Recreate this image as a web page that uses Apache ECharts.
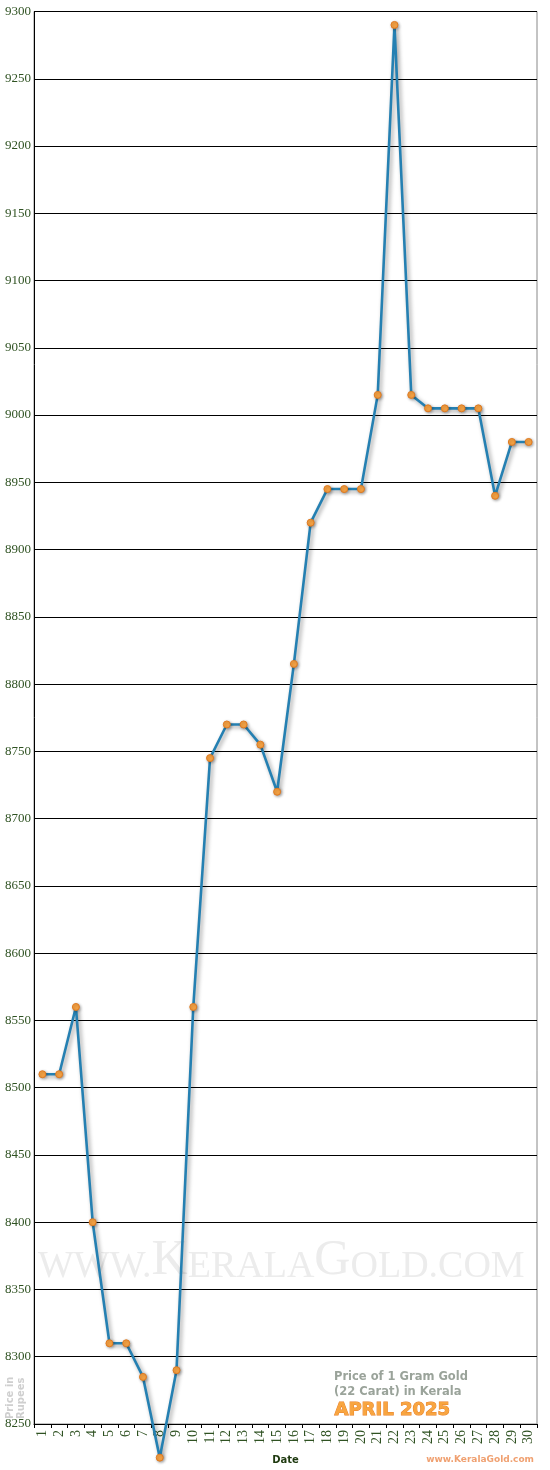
<!DOCTYPE html>
<html><head><meta charset="utf-8">
<script src="https://cdn.jsdelivr.net/npm/echarts@6/dist/echarts.min.js"></script>
<style>html,body{margin:0;padding:0;background:#fff}#c{width:550px;height:1470px}</style>
</head><body><div id="c"></div>
<script>
const dates = ['1','2','3','4','5','6','7','8','9','10','11','12','13','14','15','16','17','18','19','20','21','22','23','24','25','26','27','28','29','30'];
const prices = [8510,8510,8560,8400,8310,8310,8285,8225,8290,8560,8745,8770,8770,8755,8720,8815,8920,8945,8945,8945,9015,9290,9015,9005,9005,9005,9005,8940,8980,8980];
const yMin = 8250, yMax = 9300, yStep = 50;
const titleLines = ['Price of 1 Gram Gold', '(22 Carat) in Kerala'];
const monthLabel = 'APRIL 2025';
const siteLabel = 'www.KeralaGold.com';

const chart = echarts.init(document.getElementById('c'), null, {renderer:'canvas'});
chart.setOption({
  animation:false,
  backgroundColor:'#fff',
  grid:{left:34,right:13,top:11.5,bottom:41,show:true,borderColor:'#888',borderWidth:1,backgroundColor:'transparent'},
  xAxis:{
    type:'category', data:dates, boundaryGap:true,
    axisLine:{show:true,lineStyle:{color:'#000',width:1}},
    axisTick:{show:true,length:4,interval:0,lineStyle:{color:'#000'}},
    axisLabel:{rotate:90,interval:0,margin:6,color:'#2f5222',fontFamily:'Liberation Serif',fontSize:14},
    name:'Date',nameLocation:'middle',nameGap:31,
    nameTextStyle:{color:'#1f3a10',fontFamily:'DejaVu Sans',fontWeight:'bold',fontSize:10}
  },
  yAxis:{
    type:'value',min:yMin,max:yMax,interval:yStep,
    axisLine:{show:true,lineStyle:{color:'#000',width:1}},
    axisTick:{show:false},
    axisLabel:{margin:3,color:'#2f5222',fontFamily:'Liberation Serif',fontSize:13,formatter:v=>String(v)},
    splitLine:{show:true,lineStyle:{color:'#000',width:1}}
  },
  graphic:[
    {type:'text',left:38,top:1236,z:0,silent:true,
     style:{
       text:'{s|WWW.}{b|K}{s|ERALA}{b|G}{s|OLD.COM}',
       rich:{
         s:{fontFamily:'Liberation Serif',fontSize:38,fill:'#ececec',verticalAlign:'bottom'},
         b:{fontFamily:'Liberation Serif',fontSize:50,fill:'#ececec',verticalAlign:'bottom'}
       }
     }},
    {type:'text',left:334,top:1370,z:5,
     style:{text:titleLines.join('\n'),fontFamily:'DejaVu Sans',fontWeight:'bold',fontSize:11.5,lineHeight:15,fill:'#9aa39a'}},
    {type:'text',left:334,top:1401,z:5,
     style:{text:monthLabel,fontFamily:'DejaVu Sans',fontWeight:'bold',fontSize:18,fill:'#f8a540',stroke:'#e9802a',lineWidth:1}},
    {type:'text',right:16,top:1455,z:5,
     style:{text:siteLabel,fontFamily:'DejaVu Sans',fontWeight:'bold',fontSize:9,fill:'#f0a070'}},
    {type:'text',x:5,y:1419,rotation:Math.PI/2,z:5,
     style:{text:'Price in\nRupees',fontFamily:'DejaVu Sans',fontWeight:'bold',fontSize:10,lineHeight:11,fill:'#cfcfcf',align:'left',verticalAlign:'top'}}
  ],
  series:[{
    type:'line',data:prices,clip:false,z:3,
    symbol:'circle',symbolSize:7,
    lineStyle:{color:'#2580b2',width:2.6,shadowColor:'rgba(0,0,0,0.4)',shadowBlur:4,shadowOffsetX:2,shadowOffsetY:2},
    itemStyle:{color:'#f9a444',borderColor:'#e07a20',borderWidth:1,shadowColor:'rgba(0,0,0,0.3)',shadowBlur:3,shadowOffsetX:1,shadowOffsetY:1}
  }]
});
</script></body></html>
